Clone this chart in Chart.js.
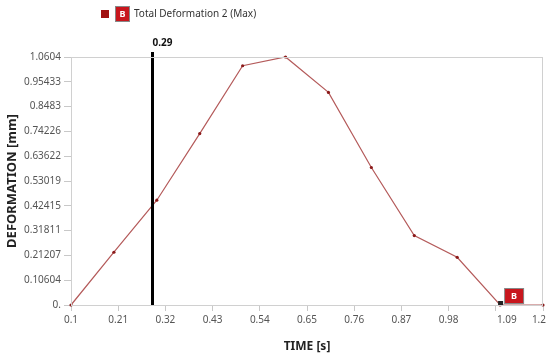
<!DOCTYPE html>
<html><head><meta charset="utf-8">
<script src="https://cdn.jsdelivr.net/npm/chart.js@4"></script>
<style>html,body{margin:0;padding:0;background:#fff}#wrap{width:547px;height:358px;position:relative}</style>
</head><body><div id="wrap"><canvas id="c"></canvas></div>
<script>
const timeValues = [0.1, 0.2, 0.3, 0.4, 0.5, 0.6, 0.7, 0.8, 0.9, 1.0, 1.1, 1.2];
const deformationValues = [0, 0.2256, 0.448, 0.733, 1.023, 1.0604, 0.909, 0.588, 0.297, 0.204, 0, 0];
const xTickValues = [0.1, 0.21, 0.32, 0.43, 0.54, 0.65, 0.76, 0.87, 0.98, 1.09, 1.2];
const xTickLabels = ["0.1", "0.21", "0.32", "0.43", "0.54", "0.65", "0.76", "0.87", "0.98", "1.09", "1.2"];
const yTickValues = [0, 0.10604, 0.21207, 0.31811, 0.42415, 0.53019, 0.63622, 0.74226, 0.8483, 0.95433, 1.0604];
const yTickLabels = ["0.", "0.10604", "0.21207", "0.31811", "0.42415", "0.53019", "0.63622", "0.74226", "0.8483", "0.95433", "1.0604"];
const probeTime = 0.29;
const probeLabel = "0.29";
const seriesName = "Total Deformation 2 (Max)";
const markerTime = 1.1;
const markerValue = 0;

const FONT = "'Noto Sans', 'Open Sans', sans-serif";

const overlay = {
  id: 'overlay',
  beforeDraw(chart) {
    // keep the crowded last x labels inside the canvas, as in the reference
    const xs = chart.scales.x;
    const items = xs.getLabelItems();
    const n = items.length;
    if (n >= 2) {
      const last = items[n - 1], prev = items[n - 2];
      last.options.textAlign = 'right';
      last.options.translation[0] = chart.width - 1;
      prev.options.translation[0] += 11;
    }
  },
  afterDatasetsDraw(chart) {
    const ctx = chart.ctx, xs = chart.scales.x, ys = chart.scales.y, ca = chart.chartArea;
    ctx.save();
    const px = xs.getPixelForValue(probeTime);
    ctx.strokeStyle = '#000'; ctx.lineWidth = 3;
    ctx.beginPath(); ctx.moveTo(px, ca.top - 5); ctx.lineTo(px, ca.bottom); ctx.stroke();
    ctx.fillStyle = '#111'; ctx.font = "bold 10px " + FONT;
    ctx.textAlign = 'left'; ctx.textBaseline = 'middle';
    ctx.fillText(probeLabel, px, ca.top - 14);
    const mx = xs.getPixelForValue(markerTime), my = ys.getPixelForValue(markerValue);
    ctx.fillStyle = '#222'; ctx.fillRect(mx - 2, my - 4, 5, 5);
    ctx.fillStyle = '#888'; ctx.fillRect(mx + 4, my - 17, 20, 16);
    ctx.fillStyle = '#c8161d'; ctx.fillRect(mx + 5, my - 16, 18, 14);
    ctx.fillStyle = '#fff'; ctx.font = "bold 9px " + FONT; ctx.textAlign = 'center';
    ctx.fillText('B', mx + 14, my - 9);
    ctx.restore();
  },
  afterDraw(chart) {
    const ctx = chart.ctx;
    ctx.save();
    ctx.fillStyle = '#a01010'; ctx.fillRect(101, 10, 8, 8);
    ctx.fillStyle = '#888'; ctx.fillRect(115, 6, 15, 16);
    ctx.fillStyle = '#c8161d'; ctx.fillRect(116, 7, 13, 14);
    ctx.fillStyle = '#fff'; ctx.font = "bold 9px " + FONT; ctx.textAlign = 'center'; ctx.textBaseline = 'middle';
    ctx.fillText('B', 122.5, 14.5);
    ctx.fillStyle = '#333'; ctx.font = "10px " + FONT; ctx.textAlign = 'left';
    ctx.fillText(seriesName, 134, 14.5);
    const ca = chart.chartArea;
    ctx.strokeStyle = '#d0d0d0'; ctx.lineWidth = 1;
    ctx.strokeRect(ca.left + 0.5, ca.top + 0.5, ca.right - ca.left - 1, ca.bottom - ca.top);
    ctx.restore();
  }
};

new Chart(document.getElementById('c'), {
  type: 'line',
  data: {
    datasets: [{
      data: timeValues.map((t, i) => ({x: t, y: deformationValues[i]})),
      borderColor: '#b45a5a', borderWidth: 1.2,
      pointRadius: 1.6, pointBackgroundColor: '#8b1a1a', pointBorderWidth: 0,
      tension: 0, clip: false
    }]
  },
  options: {
    responsive: true, maintainAspectRatio: false, animation: false,
    layout: {padding: {top: 57, right: 2, left: 0, bottom: 0}},
    plugins: {legend: {display: false}, tooltip: {enabled: false}},
    scales: {
      x: {
        type: 'linear', min: 0.1, max: 1.2,
        afterBuildTicks(s) { s.ticks = xTickValues.map(v => ({value: v})); },
        afterFit(s) { s.height = 53; s.paddingRight = 0; s.paddingLeft = 0; },
        ticks: {
          callback: (v, i) => xTickLabels[i],
          font: {size: 10, family: FONT}, color: '#555', padding: 3, maxRotation: 0, autoSkip: false
        },
        grid: {drawOnChartArea: false, tickLength: 6, color: '#c8c8c8'},
        border: {color: '#c8c8c8'},
        title: {display: true, text: 'TIME [s]', font: {size: 12, weight: 'bold', family: FONT}, color: '#222', padding: {top: 4}}
      },
      y: {
        type: 'linear', min: 0, max: 1.0604,
        afterBuildTicks(s) { s.ticks = yTickValues.map(v => ({value: v})); },
        afterFit(s) { s.width = 71; },
        ticks: {
          callback: (v, i) => yTickLabels[i],
          font: {size: 10, family: FONT}, color: '#555', padding: 3, autoSkip: false
        },
        grid: {drawOnChartArea: false, tickLength: 7, color: '#c8c8c8'},
        border: {color: '#c8c8c8'},
        title: {display: true, text: 'DEFORMATION [mm]', font: {size: 13, weight: 'bold', family: FONT}, color: '#222', padding: {bottom: 2}}
      }
    }
  },
  plugins: [overlay]
});
</script></body></html>
